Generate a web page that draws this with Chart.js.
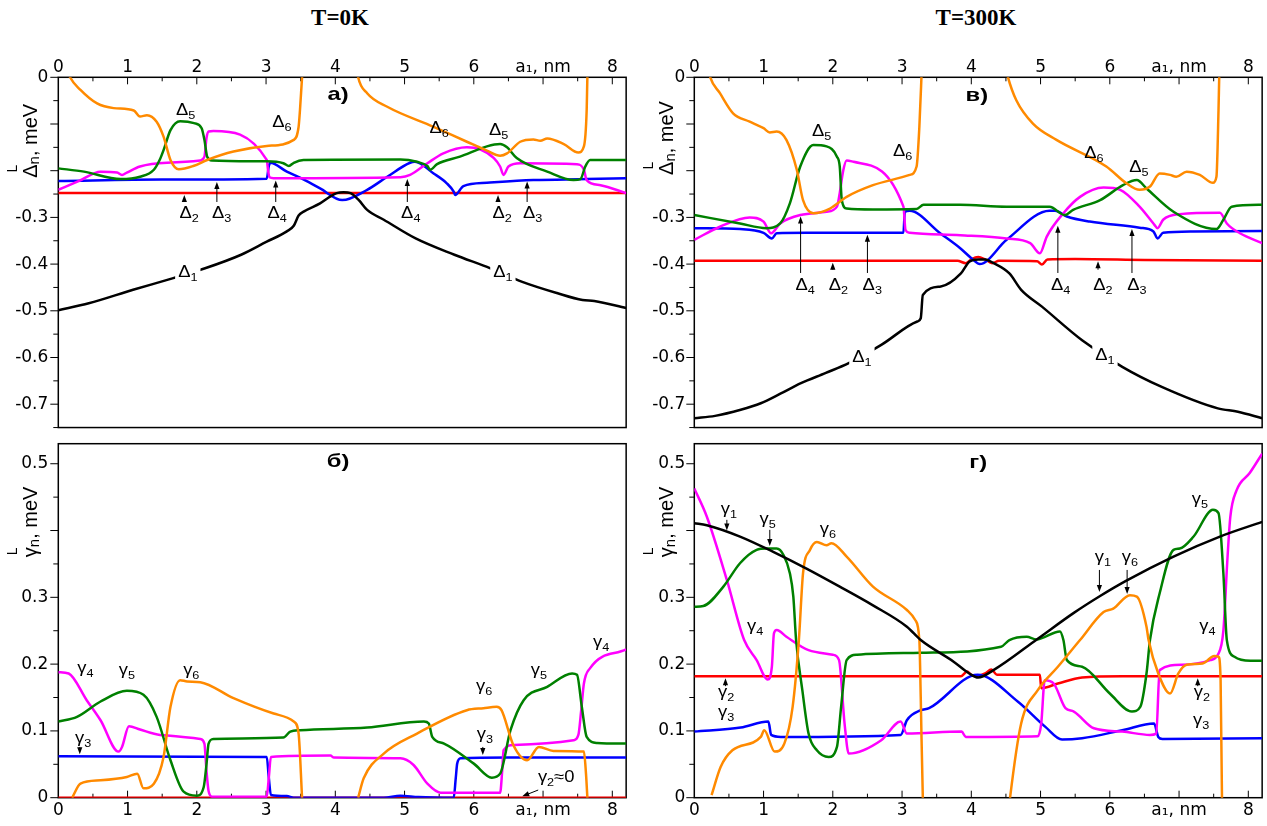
<!DOCTYPE html>
<html>
<head>
<meta charset="utf-8">
<script src="https://cdn.jsdelivr.net/npm/chart.js@4.4.0/dist/chart.umd.min.js"></script>
<style>
  body { margin: 0; background: #fff; }
  #wrap { position: relative; width: 1267px; height: 826px; overflow: hidden; background: #fff; }
  canvas { position: absolute; }
  .ttl { position: absolute; top: 5px; width: 200px; text-align: center; font: bold 23px "Liberation Serif", serif; color: #000; }
</style>
</head>
<body>
<div id="wrap">
  <div class="ttl" style="left:240px">T=0K</div>
  <div class="ttl" style="left:876px">T=300K</div>
  <canvas id="pa" width="640" height="400" style="left:0;top:40px"></canvas>
  <canvas id="pb" width="640" height="386" style="left:0;top:440px"></canvas>
  <canvas id="pc" width="627" height="400" style="left:640px;top:40px"></canvas>
  <canvas id="pd" width="627" height="386" style="left:640px;top:440px"></canvas>
</div>
<script>
// ---- axis ticks ----
const xTicks = [0, 1, 2, 3, 4, 5, 6, 7, 8];
const xTickLabels = ['0', '1', '2', '3', '4', '5', '6', 'a\u2081, nm', '8'];
const yTicksTop = [0, -0.1, -0.2, -0.3, -0.4, -0.5, -0.6, -0.7];
const yLabelsTop = ['0', '', '', '-0.3', '-0.4', '-0.5', '-0.6', '-0.7'];
const yTicksBot = [0, 0.1, 0.2, 0.3, 0.4, 0.5];
const yLabelsBot = ['0', '0.1', '0.2', '0.3', '', '0.5'];

// ---- T=0K, Delta_n (panel a) ----
const aD1 = [[0,-0.499],[0.44,-0.484],[1.08,-0.455],[1.66,-0.43],[2.12,-0.409],[2.64,-0.38],[3.01,-0.352],[3.30,-0.33],[3.40,-0.318],[3.47,-0.296],[3.55,-0.287],[3.78,-0.27],[3.93,-0.255],[4.02,-0.248],[4.12,-0.246],[4.22,-0.248],[4.34,-0.263],[4.46,-0.284],[4.70,-0.305],[5.16,-0.345],[5.72,-0.38],[6.24,-0.409],[6.70,-0.438],[7.2,-0.462],[7.57,-0.477],[7.74,-0.479],[8.2,-0.494]];
const aD2 = [[0,-0.248],[4.0,-0.248],[8.2,-0.248]];
const aD3 = [[0,-0.222],[1.5,-0.219],[3.01,-0.217],[3.04,-0.19],[3.06,-0.183],[3.30,-0.202],[3.49,-0.215],[3.78,-0.238],[4.10,-0.263],[4.46,-0.241],[4.75,-0.213],[5.08,-0.183],[5.15,-0.181],[5.42,-0.206],[5.61,-0.227],[5.71,-0.245],[5.73,-0.252],[5.85,-0.233],[6.19,-0.226],[6.86,-0.22],[7.63,-0.218],[8.2,-0.216]];
const aD4 = [[0,-0.241],[0.3,-0.222],[0.61,-0.202],[0.85,-0.204],[0.92,-0.209],[0.99,-0.204],[1.18,-0.191],[1.57,-0.183],[2.05,-0.178],[2.11,-0.17],[2.14,-0.13],[2.17,-0.116],[2.24,-0.115],[3.01,-0.177],[3.03,-0.2],[3.05,-0.214],[3.11,-0.216],[4.94,-0.214],[5.08,-0.209],[5.33,-0.184],[5.56,-0.163],[5.90,-0.150],[6.09,-0.154],[6.29,-0.173],[6.38,-0.191],[6.43,-0.209],[6.50,-0.191],[6.67,-0.184],[7.49,-0.186],[7.59,-0.198],[7.63,-0.22],[7.83,-0.231],[8.2,-0.248]];
const aD5 = [[0,-0.195],[0.37,-0.202],[0.90,-0.218],[1.18,-0.213],[1.38,-0.198],[1.47,-0.175],[1.52,-0.156],[1.62,-0.113],[1.76,-0.094],[1.96,-0.098],[2.07,-0.109],[2.11,-0.134],[2.15,-0.17],[2.22,-0.178],[3.01,-0.18],[3.25,-0.184],[3.33,-0.19],[3.40,-0.183],[3.54,-0.177],[4.94,-0.176],[5.18,-0.181],[5.33,-0.19],[5.37,-0.198],[5.47,-0.186],[5.80,-0.17],[6.19,-0.148],[6.38,-0.143],[6.48,-0.15],[6.62,-0.173],[7.06,-0.202],[7.44,-0.22],[7.54,-0.218],[7.61,-0.191],[7.68,-0.177],[8.2,-0.177]];
const aD6 = [[0.12,0.02],[0.17,0],[0.32,-0.027],[0.56,-0.056],[0.80,-0.066],[1.09,-0.071],[1.18,-0.084],[1.28,-0.081],[1.42,-0.095],[1.52,-0.127],[1.62,-0.177],[1.74,-0.197],[1.95,-0.19],[2.15,-0.177],[2.53,-0.159],[3.01,-0.147],[3.40,-0.134],[3.47,-0.106],[3.49,-0.07],[3.52,0],[3.53,0.02],[3.8,null],[4.31,0.02],[4.33,0],[4.46,-0.034],[4.75,-0.063],[5.42,-0.106],[5.90,-0.138],[6.19,-0.157],[6.38,-0.168],[6.48,-0.163],[6.67,-0.138],[6.86,-0.133],[6.96,-0.136],[7.06,-0.131],[7.30,-0.143],[7.51,-0.161],[7.59,-0.148],[7.63,-0.07],[7.64,0],[7.645,0.02]];

// ---- T=0K, gamma_n (panel b) ----
const bG2 = [[0,0],[4.0,0],[8.2,0]];
const bG3 = [[0,0.062],[3.01,0.061],[3.04,0.03],[3.07,0.004],[3.30,0.0025],[3.4,0],[4.7,0],[4.94,0.003],[5.2,0.001],[5.71,0],[5.74,0.03],[5.76,0.051],[5.81,0.059],[6.5,0.06],[8.2,0.06]];
const bG4 = [[0,0.188],[0.15,0.186],[0.41,0.146],[0.61,0.116],[0.87,0.069],[0.92,0.076],[1.02,0.107],[1.18,0.102],[1.47,0.094],[2.05,0.088],[2.11,0.081],[2.14,0.04],[2.17,0.01],[2.22,0.0015],[3.01,0.0015],[3.04,0.03],[3.07,0.061],[3.93,0.063],[3.98,0.06],[4.94,0.059],[5.13,0.049],[5.33,0.021],[5.52,0.0075],[6.38,0.0075],[6.41,0.04],[6.43,0.071],[6.58,0.079],[7.44,0.086],[7.51,0.094],[7.55,0.13],[7.59,0.171],[7.68,0.194],[8.2,0.222]];
const bG5 = [[0,0.114],[0.27,0.121],[0.61,0.144],[0.99,0.160],[1.23,0.154],[1.42,0.121],[1.62,0.056],[1.81,0.009],[2.0,0.003],[2.10,0.016],[2.14,0.05],[2.17,0.081],[2.24,0.088],[3.25,0.09],[3.35,0.099],[3.49,0.101],[4.46,0.105],[5.28,0.114],[5.35,0.111],[5.40,0.091],[5.57,0.081],[6.0,0.051],[6.26,0.03],[6.38,0.036],[6.53,0.101],[6.72,0.146],[7.06,0.166],[7.42,0.186],[7.49,0.184],[7.56,0.136],[7.63,0.091],[7.78,0.082],[8.2,0.081]];
const bG6 = [[0.2,0],[0.32,0.021],[0.61,0.026],[0.99,0.031],[1.14,0.036],[1.23,0.014],[1.38,0.021],[1.52,0.061],[1.62,0.136],[1.76,0.176],[1.86,0.174],[2.05,0.173],[2.53,0.149],[3.11,0.126],[3.40,0.114],[3.47,0.096],[3.52,0],[3.6,null],[4.33,0],[4.41,0.029],[4.70,0.066],[5.18,0.096],[5.90,0.131],[6.14,0.134],[6.33,0.136],[6.40,0.131],[6.57,0.079],[6.77,0.056],[6.94,0.076],[7.15,0.07],[7.59,0.069],[7.62,0.036],[7.64,0]];

// ---- T=300K, Delta_n (panel v) ----
const cD1 = [[0,-0.730],[0.3,-0.725],[0.67,-0.712],[0.96,-0.698],[1.25,-0.677],[1.54,-0.655],[1.9,-0.633],[2.23,-0.612],[2.70,-0.573],[3.22,-0.523],[3.27,-0.516],[3.30,-0.466],[3.56,-0.448],[3.85,-0.42],[3.97,-0.395],[4.1,-0.39],[4.2,-0.39],[4.31,-0.397],[4.55,-0.42],[4.72,-0.455],[5.02,-0.491],[5.60,-0.563],[6.18,-0.62],[6.75,-0.663],[7.56,-0.709],[7.85,-0.716],[8.2,-0.73]];
const cD2 = [[0,-0.393],[3.8,-0.393],[3.92,-0.398],[4.0,-0.39],[4.1,-0.385],[4.2,-0.39],[4.3,-0.398],[4.4,-0.393],[4.95,-0.394],[5.02,-0.401],[5.1,-0.39],[5.5,-0.389],[6.5,-0.391],[8.2,-0.393]];
const cD3 = [[0,-0.323],[0.66,-0.325],[1.0,-0.333],[1.12,-0.345],[1.19,-0.334],[1.62,-0.333],[3.02,-0.333],[3.04,-0.288],[3.11,-0.286],[3.55,-0.334],[3.84,-0.366],[4.03,-0.391],[4.12,-0.4],[4.51,-0.348],[5.13,-0.286],[5.21,-0.286],[5.38,-0.298],[5.71,-0.309],[6.43,-0.322],[6.63,-0.33],[6.69,-0.345],[6.77,-0.333],[7.20,-0.33],[8.2,-0.329]];
const cD4 = [[0,-0.348],[0.37,-0.32],[0.80,-0.3],[1.0,-0.309],[1.11,-0.334],[1.24,-0.313],[1.53,-0.295],[1.91,-0.288],[2.06,-0.277],[2.10,-0.248],[2.15,-0.2],[2.20,-0.178],[2.30,-0.181],[3.02,-0.277],[3.05,-0.327],[3.11,-0.333],[3.84,-0.338],[4.51,-0.345],[4.85,-0.355],[4.99,-0.377],[5.09,-0.341],[5.33,-0.291],[5.57,-0.256],[5.91,-0.236],[6.15,-0.241],[6.43,-0.277],[6.63,-0.313],[6.69,-0.323],[6.77,-0.305],[7.01,-0.293],[7.59,-0.29],[7.69,-0.313],[7.88,-0.334],[8.2,-0.355]];
const cD5 = [[0,-0.295],[0.66,-0.313],[1.04,-0.323],[1.24,-0.313],[1.38,-0.27],[1.53,-0.191],[1.72,-0.145],[1.91,-0.148],[2.06,-0.17],[2.10,-0.191],[2.13,-0.263],[2.20,-0.281],[2.58,-0.283],[3.21,-0.282],[3.31,-0.273],[3.84,-0.273],[4.51,-0.277],[5.13,-0.277],[5.35,-0.295],[5.47,-0.284],[5.86,-0.263],[6.19,-0.231],[6.39,-0.22],[6.53,-0.238],[6.92,-0.288],[7.54,-0.325],[7.64,-0.305],[7.76,-0.277],[8.2,-0.273]];
const cD6 = [[0.2,0.02],[0.23,0],[0.37,-0.034],[0.56,-0.077],[0.80,-0.095],[1.0,-0.109],[1.09,-0.118],[1.19,-0.116],[1.33,-0.134],[1.48,-0.198],[1.57,-0.263],[1.72,-0.291],[1.96,-0.281],[2.20,-0.256],[2.58,-0.231],[3.11,-0.209],[3.21,-0.191],[3.25,-0.106],[3.28,0],[3.285,0.02],[3.9,null],[4.5,0.02],[4.53,0],[4.65,-0.049],[4.89,-0.099],[5.23,-0.134],[5.95,-0.191],[6.24,-0.227],[6.43,-0.241],[6.58,-0.234],[6.72,-0.206],[6.87,-0.209],[6.96,-0.213],[7.11,-0.202],[7.30,-0.209],[7.49,-0.226],[7.54,-0.213],[7.57,-0.07],[7.58,0],[7.585,0.02]];

// ---- T=300K, gamma_n (panel g) ----
const dG1 = [[0,0.411],[0.18,0.408],[0.66,0.391],[1.14,0.368],[1.62,0.343],[2.10,0.316],[2.58,0.288],[3.07,0.256],[3.27,0.236],[3.74,0.204],[3.97,0.186],[4.1,0.18],[4.32,0.191],[4.96,0.238],[5.47,0.276],[5.86,0.302],[6.24,0.325],[6.92,0.361],[7.59,0.391],[8.2,0.413]];
const dG2 = [[0,0.182],[3.85,0.182],[3.94,0.189],[4.0,0.184],[4.08,0.182],[4.2,0.186],[4.29,0.192],[4.37,0.184],[4.99,0.184],[5.01,0.164],[5.25,0.171],[5.6,0.18],[6.18,0.182],[8.2,0.182]];
const dG3 = [[0,0.099],[0.67,0.105],[1.07,0.114],[1.11,0.094],[1.25,0.091],[2.98,0.094],[3.07,0.116],[3.27,0.131],[3.39,0.134],[4.09,0.184],[4.67,0.144],[5.07,0.106],[5.31,0.087],[5.6,0.089],[6.18,0.101],[6.64,0.111],[6.70,0.091],[6.76,0.088],[8.2,0.089]];
const dG4 = [[0,0.463],[0.18,0.421],[0.47,0.326],[0.72,0.236],[0.90,0.206],[1.06,0.177],[1.12,0.196],[1.15,0.246],[1.19,0.251],[1.33,0.241],[1.65,0.221],[2.0,0.214],[2.09,0.206],[2.17,0.111],[2.23,0.066],[2.70,0.086],[2.98,0.114],[3.07,0.096],[3.86,0.099],[3.92,0.091],[4.96,0.092],[5.01,0.111],[5.06,0.176],[5.19,0.171],[5.36,0.134],[5.48,0.129],[5.77,0.104],[6.18,0.099],[6.58,0.094],[6.67,0.096],[6.72,0.191],[7.04,0.199],[7.45,0.206],[7.56,0.214],[7.64,0.25],[7.70,0.36],[7.74,0.42],[7.83,0.46],[8.02,0.486],[8.2,0.515]];
const dG5 = [[0,0.286],[0.13,0.287],[0.42,0.316],[0.66,0.351],[0.9,0.371],[1.04,0.373],[1.19,0.373],[1.29,0.363],[1.38,0.336],[1.43,0.301],[1.47,0.236],[1.56,0.161],[1.65,0.096],[1.77,0.071],[1.94,0.061],[2.06,0.076],[2.12,0.136],[2.2,0.206],[2.35,0.214],[3.27,0.217],[4.43,0.226],[4.55,0.236],[4.80,0.241],[4.94,0.237],[5.28,0.249],[5.33,0.236],[5.38,0.206],[5.60,0.196],[6.0,0.156],[6.32,0.129],[6.44,0.136],[6.53,0.186],[6.58,0.236],[6.72,0.306],[6.92,0.371],[7.01,0.373],[7.21,0.391],[7.49,0.431],[7.57,0.426],[7.64,0.336],[7.69,0.236],[7.80,0.211],[8.03,0.205],[8.2,0.205]];
const dG6 = [[0.25,0.004],[0.38,0.046],[0.55,0.071],[0.96,0.091],[1.01,0.101],[1.16,0.069],[1.30,0.081],[1.42,0.136],[1.51,0.236],[1.57,0.336],[1.67,0.371],[1.77,0.383],[1.91,0.378],[1.98,0.381],[2.2,0.361],[2.58,0.316],[3.07,0.281],[3.19,0.266],[3.25,0.236],[3.27,0.15],[3.30,0],[3.31,-0.01],[3.9,null],[4.55,-0.01],[4.56,0],[4.72,0.111],[4.96,0.161],[5.25,0.196],[5.57,0.236],[5.91,0.278],[6.05,0.283],[6.29,0.303],[6.39,0.301],[6.53,0.256],[6.56,0.236],[6.70,0.186],[6.87,0.156],[6.99,0.186],[7.11,0.199],[7.34,0.201],[7.51,0.212],[7.57,0.211],[7.60,0.176],[7.62,0],[7.625,-0.01]];

const BLACK = '#000000', RED = '#ff0000', BLUE = '#0000ff', MAGENTA = '#ff00ff', GREEN = '#008000', ORANGE = '#ff8a00';
const FONT = '"Liberation Sans", Arial, sans-serif';

// Draw a label like Δ5 or γ2≈0, centred on (px, py)
function drawGreek(ctx, px, py, lab) {
  const parts = [[lab.m, 16, 0], [lab.s, 11, 4]];
  if (lab.t) parts.push([lab.t, 16, 0]);
  let w = 0;
  parts.forEach(p => { ctx.font = p[1] + 'px ' + FONT; p.w = ctx.measureText(p[0]).width; w += p.w; });
  const sx = 1.15;
  const base = py + (lab.m === 'γ' ? 2.5 : 5.8);
  ctx.save();
  if (lab.bg) {
    ctx.fillStyle = '#fff';
    ctx.fillRect(px - w * sx / 2 - 3, py - 10, w * sx + 6, 21);
  }
  ctx.translate(px, base);
  ctx.scale(sx, 1);
  ctx.fillStyle = '#000';
  ctx.textBaseline = 'alphabetic';
  ctx.textAlign = 'left';
  let cx = -w / 2;
  parts.forEach(p => { ctx.font = p[1] + 'px ' + FONT; ctx.fillText(p[0], cx, p[2]); cx += p.w; });
  ctx.restore();
}

function drawArrow(ctx, x0, y0, x1, y1) {
  const ang = Math.atan2(y1 - y0, x1 - x0);
  const L = 7, W = 2.6;
  ctx.save();
  ctx.fillStyle = '#000';
  ctx.strokeStyle = '#000';
  ctx.lineWidth = 1;
  ctx.beginPath();
  ctx.moveTo(x0, y0);
  ctx.lineTo(x1 - L * 0.6 * Math.cos(ang), y1 - L * 0.6 * Math.sin(ang));
  ctx.stroke();
  ctx.beginPath();
  ctx.moveTo(x1, y1);
  ctx.lineTo(x1 - L * Math.cos(ang) + W * Math.sin(ang), y1 - L * Math.sin(ang) - W * Math.cos(ang));
  ctx.lineTo(x1 - L * Math.cos(ang) - W * Math.sin(ang), y1 - L * Math.sin(ang) + W * Math.cos(ang));
  ctx.closePath();
  ctx.fill();
  ctx.restore();
}

// frame, tick marks, axis title and annotations
function decor(o) {
  return {
    id: 'decor',
    beforeDatasetsDraw(chart) {
      const { ctx, chartArea: a, scales: { x, y } } = chart;
      ctx.save();
      ctx.strokeStyle = '#000';
      ctx.lineWidth = 1;
      for (let k = 1; k <= 16; k++) {
        const px = x.getPixelForValue(k / 2);
        const len = k % 2 === 0 ? 7 : 4;
        ctx.beginPath();
        if (o.xPos === 'top') { ctx.moveTo(px, a.top); ctx.lineTo(px, a.top + len); }
        else { ctx.moveTo(px, a.bottom); ctx.lineTo(px, a.bottom - len); }
        ctx.stroke();
      }
      for (let k = 0; k <= 15; k++) {
        const v = o.yMin < 0 ? -k * 0.05 : k * 0.05;
        if (v < o.yMin - 1e-9 || v > o.yMax + 1e-9) continue;
        const py = y.getPixelForValue(v);
        const len = k % 2 === 0 ? 8 : 5;
        ctx.beginPath();
        ctx.moveTo(a.left, py);
        ctx.lineTo(a.left - len, py);
        ctx.stroke();
      }
      ctx.lineWidth = 1.5;
      ctx.strokeRect(a.left, a.top, a.right - a.left, a.bottom - a.top);
      ctx.restore();
    },
    afterDatasetsDraw(chart) {
      const { ctx, chartArea: a, scales: { x, y } } = chart;
      o.arrows.forEach(r => {
        drawArrow(ctx, x.getPixelForValue(r.x), y.getPixelForValue(r.from),
          x.getPixelForValue(r.x2 !== undefined ? r.x2 : r.x), y.getPixelForValue(r.to));
      });
      o.labels.forEach(l => drawGreek(ctx, x.getPixelForValue(l.x), y.getPixelForValue(l.y), l));

      // panel letter
      ctx.save();
      ctx.fillStyle = '#000';
      ctx.translate(x.getPixelForValue(o.letter.x), y.getPixelForValue(o.letter.y));
      ctx.scale(1.25, 1);
      ctx.font = 'bold 19px ' + FONT;
      ctx.textAlign = 'center';
      ctx.textBaseline = 'middle';
      ctx.fillText(o.letter.t, 0, 0);
      ctx.restore();

      // rotated y axis title: Δ/γ with sub n and sup L, then ", meV"
      ctx.save();
      ctx.fillStyle = '#000';
      ctx.translate(a.left - 21, y.getPixelForValue(o.titleAt));
      ctx.rotate(-Math.PI / 2);
      ctx.textAlign = 'left';
      ctx.textBaseline = 'alphabetic';
      const big = '20px ' + FONT, small = '15px ' + FONT;
      ctx.font = big;
      const wm = ctx.measureText(o.sym).width, wr = ctx.measureText(', meV').width;
      ctx.font = small;
      const wn = ctx.measureText('n').width;
      let cx = -(wm + wn + wr) / 2;
      ctx.font = big; ctx.fillText(o.sym, cx, 0);
      ctx.font = small; ctx.fillText('n', cx + wm, 2);
      ctx.font = '14px ' + FONT; ctx.fillText('L', cx + wm - 8, -20);
      ctx.font = big; ctx.fillText(', meV', cx + wm + wn, 0);
      ctx.restore();
    }
  };
}

function makePanel(id, o) {
  return new Chart(document.getElementById(id), {
    type: 'line',
    data: {
      datasets: o.series.map(s => ({
        data: s[0], borderColor: s[1], borderWidth: 2.5,
        pointRadius: 0, fill: false, cubicInterpolationMode: 'monotone', spanGaps: false
      }))
    },
    options: {
      responsive: false,
      animation: false,
      devicePixelRatio: 1,
      events: [],
      layout: { padding: o.padding, autoPadding: false },
      plugins: { legend: { display: false }, tooltip: { enabled: false } },
      scales: {
        x: {
          type: 'linear', position: o.xPos, min: 0, max: 8.2,
          grid: { display: false, drawTicks: false }, border: { display: false },
          afterBuildTicks: s => { s.ticks = xTicks.map(v => ({ value: v })); },
          afterFit: s => { s.height = o.xH; s.paddingLeft = 0; s.paddingRight = 0; },
          ticks: {
            padding: o.xPos === 'top' ? 0 : 3, color: '#000', maxRotation: 0, autoSkip: false,
            font: { family: 'DejaVu Sans', size: 17 },
            callback: (v, i) => xTickLabels[i]
          }
        },
        y: {
          type: 'linear', position: 'left', min: o.yMin, max: o.yMax,
          grid: { display: false, drawTicks: false }, border: { display: false },
          afterBuildTicks: s => { s.ticks = o.yTicks.map(v => ({ value: v })); },
          afterFit: s => { s.width = o.yW; s.paddingTop = 0; s.paddingBottom = 0; },
          ticks: {
            padding: o.yPad, color: '#000', autoSkip: false,
            font: { family: 'DejaVu Sans', size: 17 },
            callback: (v, i) => o.yLabels[i]
          }
        }
      }
    },
    plugins: [decor(o)]
  });
}

makePanel('pa', {
  series: [[aD1, BLACK], [aD6, ORANGE], [aD5, GREEN], [aD4, MAGENTA], [aD3, BLUE], [aD2, RED]],
  xPos: 'top', xH: 37.3, yW: 58.3, yPad: 10,
  padding: { left: 0, top: 0, right: 13.85, bottom: 12.45 },
  yMin: -0.75, yMax: 0, yTicks: yTicksTop, yLabels: yLabelsTop,
  sym: 'Δ', titleAt: -0.136,
  letter: { t: 'а)', x: 4.04, y: -0.038 },
  labels: [
    { x: 1.84, y: -0.068, m: 'Δ', s: '5' }, { x: 3.23, y: -0.094, m: 'Δ', s: '6' },
    { x: 5.50, y: -0.107, m: 'Δ', s: '6' }, { x: 6.36, y: -0.111, m: 'Δ', s: '5' },
    { x: 1.89, y: -0.289, m: 'Δ', s: '2' }, { x: 2.36, y: -0.289, m: 'Δ', s: '3' },
    { x: 3.16, y: -0.289, m: 'Δ', s: '4' }, { x: 5.09, y: -0.289, m: 'Δ', s: '4' },
    { x: 6.41, y: -0.289, m: 'Δ', s: '2' }, { x: 6.85, y: -0.289, m: 'Δ', s: '3' },
    { x: 1.87, y: -0.415, m: 'Δ', s: '1', bg: true }, { x: 6.42, y: -0.415, m: 'Δ', s: '1', bg: true }
  ],
  arrows: [
    { x: 1.82, from: -0.267, to: -0.252 }, { x: 2.29, from: -0.267, to: -0.224 },
    { x: 3.14, from: -0.267, to: -0.221 }, { x: 5.04, from: -0.267, to: -0.218 },
    { x: 6.35, from: -0.267, to: -0.252 }, { x: 6.77, from: -0.267, to: -0.223 }
  ]
});

makePanel('pb', {
  series: [[bG6, ORANGE], [bG5, GREEN], [bG4, MAGENTA], [bG3, BLUE], [bG2, RED]],
  xPos: 'bottom', xH: 28.3, yW: 58.3, yPad: 10,
  padding: { left: 0, top: 3.7, right: 13.85, bottom: 0 },
  yMin: 0, yMax: 0.53, yTicks: yTicksBot, yLabels: yLabelsBot,
  sym: 'γ', titleAt: 0.413,
  letter: { t: 'б)', x: 4.04, y: 0.503 },
  labels: [
    { x: 0.39, y: 0.191, m: 'γ', s: '4' }, { x: 0.99, y: 0.187, m: 'γ', s: '5' },
    { x: 1.92, y: 0.188, m: 'γ', s: '6' }, { x: 0.36, y: 0.085, m: 'γ', s: '3' },
    { x: 6.15, y: 0.164, m: 'γ', s: '6' }, { x: 6.94, y: 0.187, m: 'γ', s: '5' },
    { x: 6.16, y: 0.091, m: 'γ', s: '3' }, { x: 7.19, y: 0.027, m: 'γ', s: '2', t: '≈0' },
    { x: 7.84, y: 0.23, m: 'γ', s: '4' }
  ],
  arrows: [
    { x: 0.31, from: 0.076, to: 0.065 }, { x: 6.13, from: 0.076, to: 0.064 },
    { x: 6.93, x2: 6.70, from: 0.0115, to: 0.002 }
  ]
});

makePanel('pc', {
  series: [[cD1, BLACK], [cD6, ORANGE], [cD5, GREEN], [cD4, MAGENTA], [cD3, BLUE], [cD2, RED]],
  xPos: 'top', xH: 37.3, yW: 54.3, yPad: 9,
  padding: { left: 0, top: 0, right: 4.85, bottom: 12.45 },
  yMin: -0.75, yMax: 0, yTicks: yTicksTop, yLabels: yLabelsTop,
  sym: 'Δ', titleAt: -0.13,
  letter: { t: 'в)', x: 4.08, y: -0.04 },
  labels: [
    { x: 1.84, y: -0.113, m: 'Δ', s: '5' }, { x: 3.01, y: -0.156, m: 'Δ', s: '6' },
    { x: 5.77, y: -0.16, m: 'Δ', s: '6' }, { x: 6.42, y: -0.19, m: 'Δ', s: '5' },
    { x: 1.60, y: -0.443, m: 'Δ', s: '4' }, { x: 2.08, y: -0.443, m: 'Δ', s: '2' },
    { x: 2.57, y: -0.443, m: 'Δ', s: '3' }, { x: 5.29, y: -0.443, m: 'Δ', s: '4' },
    { x: 5.90, y: -0.443, m: 'Δ', s: '2' }, { x: 6.39, y: -0.443, m: 'Δ', s: '3' },
    { x: 2.42, y: -0.597, m: 'Δ', s: '1', bg: true }, { x: 5.93, y: -0.594, m: 'Δ', s: '1', bg: true }
  ],
  arrows: [
    { x: 1.535, from: -0.419, to: -0.298 }, { x: 2.0, from: -0.412, to: -0.397 },
    { x: 2.50, from: -0.419, to: -0.337 }, { x: 5.25, from: -0.419, to: -0.318 },
    { x: 5.83, from: -0.412, to: -0.394 }, { x: 6.32, from: -0.419, to: -0.325 }
  ]
});

makePanel('pd', {
  series: [[dG1, BLACK], [dG6, ORANGE], [dG5, GREEN], [dG4, MAGENTA], [dG3, BLUE], [dG2, RED]],
  xPos: 'bottom', xH: 28.3, yW: 54.3, yPad: 9,
  padding: { left: 0, top: 3.7, right: 4.85, bottom: 0 },
  yMin: 0, yMax: 0.53, yTicks: yTicksBot, yLabels: yLabelsBot,
  sym: 'γ', titleAt: 0.413,
  letter: { t: 'г)', x: 4.1, y: 0.501 },
  labels: [
    { x: 0.50, y: 0.428, m: 'γ', s: '1' }, { x: 1.06, y: 0.413, m: 'γ', s: '5' },
    { x: 1.93, y: 0.398, m: 'γ', s: '6' }, { x: 0.88, y: 0.254, m: 'γ', s: '4' },
    { x: 7.30, y: 0.443, m: 'γ', s: '5' }, { x: 5.90, y: 0.356, m: 'γ', s: '1' },
    { x: 6.29, y: 0.356, m: 'γ', s: '6' }, { x: 7.41, y: 0.254, m: 'γ', s: '4' },
    { x: 0.46, y: 0.154, m: 'γ', s: '2' }, { x: 0.46, y: 0.124, m: 'γ', s: '3' },
    { x: 7.33, y: 0.154, m: 'γ', s: '2' }, { x: 7.32, y: 0.112, m: 'γ', s: '3' }
  ],
  arrows: [
    { x: 0.47, from: 0.416, to: 0.4 }, { x: 1.09, from: 0.401, to: 0.377 },
    { x: 5.85, from: 0.341, to: 0.308 }, { x: 6.25, from: 0.341, to: 0.305 },
    { x: 0.45, from: 0.167, to: 0.179 }, { x: 7.27, from: 0.167, to: 0.179 }
  ]
});
</script>
</body>
</html>
